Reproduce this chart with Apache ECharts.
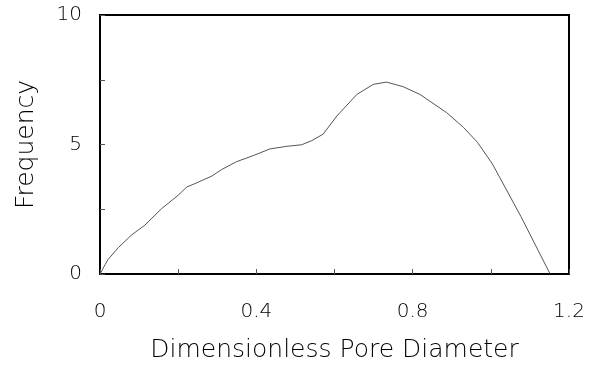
<!DOCTYPE html>
<html>
<head>
<meta charset="utf-8">
<script src="https://cdn.jsdelivr.net/npm/echarts@6/dist/echarts.min.js"></script>
<style>html,body{margin:0;padding:0;background:#fff}#c{width:599px;height:368px}</style>
</head>
<body>
<div id="c"></div>
<script>
var xValues = [0, 0.013, 0.020, 0.047, 0.081, 0.115, 0.158, 0.200, 0.222, 0.243, 0.286, 0.311, 0.350, 0.392, 0.435, 0.478, 0.516, 0.542, 0.571, 0.606, 0.657, 0.699, 0.733, 0.776, 0.819, 0.887, 0.930, 0.966, 1.004, 1.077, 1.151];
var frequency = [0, 0.36, 0.55, 1.02, 1.51, 1.89, 2.53, 3.04, 3.36, 3.49, 3.78, 4.03, 4.34, 4.57, 4.83, 4.93, 4.99, 5.15, 5.40, 6.10, 6.93, 7.32, 7.41, 7.23, 6.93, 6.23, 5.66, 5.08, 4.25, 2.22, 0.02];
var xTickLabels = ['0', '0.4', '0.8', '1.2'];
var yTickLabels = ['0', '5', '10'];
var xAxisName = 'Dimensionless Pore Diameter';
var yAxisName = 'Frequency';

var data = xValues.map(function (x, i) { return [x, frequency[i]]; });
var font = '"DejaVu Sans", Arial, sans-serif';
var chart = echarts.init(document.getElementById('c'), null, {renderer: 'canvas'});
chart.setOption({
  animation: false,
  backgroundColor: '#fff',
  grid: {left: 100, top: 15, right: 30, bottom: 92, show: true, borderColor: '#000', borderWidth: 2, containLabel: false},
  xAxis: {
    type: 'value', min: 0, max: 1.2, interval: 0.2,
    name: xAxisName, nameLocation: 'middle', nameGap: 64,
    nameTextStyle: {fontFamily: font, fontSize: 25, color: '#000', fontWeight: 300},
    axisLine: {show: true, lineStyle: {color: '#000', width: 2}},
    axisTick: {show: true, inside: true, length: 5, lineStyle: {color: '#555', width: 1}},
    splitLine: {show: false},
    axisLabel: {
      margin: 28, fontFamily: font, fontSize: 20, color: '#000', fontWeight: 300,
      formatter: function (v) {
        var s = String(Math.round(v * 10) / 10);
        return xTickLabels.indexOf(s) >= 0 ? s : '';
      }
    }
  },
  yAxis: {
    type: 'value', min: 0, max: 10, interval: 2.5,
    name: yAxisName, nameLocation: 'middle', nameGap: 61, nameRotate: 90,
    nameTextStyle: {fontFamily: font, fontSize: 25, color: '#000', fontWeight: 300},
    axisLine: {show: true, lineStyle: {color: '#000', width: 2}},
    axisTick: {show: true, inside: true, length: 5, lineStyle: {color: '#555', width: 1}},
    splitLine: {show: false},
    axisLabel: {
      margin: 18, fontFamily: font, fontSize: 20, color: '#000', fontWeight: 300,
      formatter: function (v) {
        var s = String(v);
        return yTickLabels.indexOf(s) >= 0 ? s : '';
      }
    }
  },
  series: [{
    type: 'line', data: data, showSymbol: false, smooth: false,
    lineStyle: {color: '#555', width: 1}
  }]
});
</script>
</body>
</html>
